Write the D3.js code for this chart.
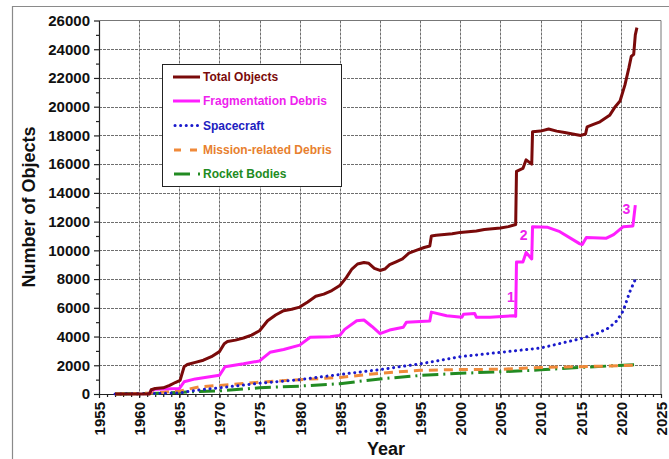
<!DOCTYPE html>
<html><head><meta charset="utf-8">
<script src="https://cdn.jsdelivr.net/npm/d3@7"></script>
<style>
html,body{margin:0;padding:0;background:#fff;}
svg{display:block;font-family:"Liberation Sans",Arial,sans-serif;}
</style></head>
<body><svg id="c" width="669" height="459"></svg>
<script>
// ---- data (year, number of objects) ----
const totalObjects = [[1957,0],[1961.3,0],[1961.5,300],[1962,380],[1963,430],[1963.8,600],[1964.5,800],[1965.1,950],[1965.6,1900],[1966,2050],[1967,2200],[1968,2350],[1969,2600],[1970,2950],[1970.6,3500],[1971,3650],[1972,3750],[1973,3900],[1974,4100],[1975,4400],[1976,5100],[1977,5500],[1978,5800],[1979,5900],[1980,6050],[1981,6400],[1982,6800],[1983,6950],[1984,7200],[1985,7550],[1985.8,8100],[1986.5,8700],[1987.2,9050],[1988,9150],[1988.6,9100],[1989.3,8750],[1990,8600],[1990.6,8700],[1991.2,9000],[1992,9200],[1992.8,9400],[1993.6,9800],[1994.5,10000],[1995.5,10200],[1996.2,10300],[1996.4,11000],[1997,11050],[1998,11100],[1999,11150],[2000,11250],[2001,11300],[2002,11350],[2003,11450],[2004,11500],[2005,11550],[2006,11650],[2006.9,11800],[2007.0,15500],[2007.8,15700],[2008.2,16300],[2008.9,16000],[2009.0,18250],[2010,18300],[2011,18450],[2012,18300],[2013,18200],[2014,18100],[2015,18000],[2015.6,18100],[2015.8,18600],[2016.5,18750],[2017.4,18950],[2018.6,19400],[2019.3,20000],[2019.9,20400],[2020.5,21500],[2021.0,22700],[2021.3,23500],[2021.6,23650],[2021.8,25000],[2022,25500]];
const fragmentationDebris = [[1961.3,0],[1961.5,250],[1962,330],[1965,380],[1965.6,850],[1967,1050],[1970,1300],[1970.7,1900],[1973,2100],[1975,2300],[1976.3,2900],[1978,3100],[1980,3400],[1981.3,3950],[1983.8,3980],[1985,4080],[1985.6,4500],[1987.1,5100],[1988,5150],[1989,4700],[1990,4200],[1991.2,4450],[1992.9,4650],[1993.3,5000],[1996.2,5080],[1996.4,5700],[1998.3,5450],[2000.2,5350],[2000.4,5550],[2001.8,5600],[2002,5350],[2003.7,5350],[2006.6,5450],[2006.9,5400],[2007.0,9190],[2007.8,9190],[2008.2,9850],[2008.9,9400],[2009.0,11650],[2010.9,11600],[2012.4,11300],[2014.9,10450],[2015.2,10400],[2015.7,10900],[2018.2,10850],[2019.1,11100],[2020.3,11650],[2021.5,11700],[2021.8,13150]];
const spacecraft = [[1957,0],[1960,20],[1963,50],[1965,80],[1967.5,290],[1970,430],[1975,750],[1980,1000],[1985,1360],[1990,1700],[1995,2100],[2000,2600],[2005,2900],[2010,3200],[2015,3850],[2017,4200],[2018.5,4600],[2019.5,5100],[2020.3,5800],[2021.1,7100],[2021.9,8100]];
const missionDebris = [[1957,0],[1961,50],[1965,200],[1967.5,500],[1970,600],[1975,820],[1980,1000],[1985,1150],[1990,1450],[1995,1650],[2000,1700],[2005,1720],[2010,1850],[2015,1900],[2022,2000]];
const rocketBodies = [[1957,0],[1960,20],[1963,60],[1967.5,180],[1970,220],[1975,430],[1980,550],[1985,720],[1990,1050],[1995,1290],[2000,1440],[2005,1550],[2010,1680],[2015,1850],[2022,2050]];

const seriesNames = ["Total Objects","Fragmentation Debris","Spacecraft","Mission-related Debris","Rocket Bodies"];
const xTicks = d3.range(1955, 2026, 5);
const yTicks = d3.range(0, 26001, 2000);
const annotations = [["1",2006.3,6400],["2",2007.9,10750],["3",2020.7,12550]];

// ---- styles ----
const styles = [
  {data: totalObjects, color:"#7a0a0a", text:"#7a0a0a", dash:null, w:3},
  {data: fragmentationDebris, color:"#ff1eff", text:"#ee22ee", dash:null, w:3},
  {data: spacecraft, color:"#1a1acc", text:"#2020c0", dash:"0.1 5.5", w:3, cap:"round"},
  {data: missionDebris, color:"#f08a3a", text:"#e8802e", dash:"9 6", w:3},
  {data: rocketBodies, color:"#228b22", text:"#228b22", dash:"16 5 2 5", w:3}
];

const svg = d3.select("#c");
const L=99, R=661, T=20.5, B=394;
const x = d3.scaleLinear().domain([1955,2025]).range([L,R]);
const y = d3.scaleLinear().domain([0,26000]).range([B,T]);

// outer frame
svg.append("path").attr("d","M12.5,470V6.5H680").attr("fill","none").attr("stroke","#8a8a8a").attr("stroke-width",1.2);

// grid
const grid = svg.append("g").attr("stroke","#6e6e6e").attr("stroke-width",1).attr("stroke-dasharray","3 1");
grid.selectAll(".gx").data(xTicks.slice(1,-1)).join("line")
  .attr("x1",d=>Math.round(x(d))+0.5).attr("x2",d=>Math.round(x(d))+0.5).attr("y1",T).attr("y2",B);
grid.selectAll(".gy").data(yTicks.slice(1,-1)).join("line")
  .attr("y1",d=>Math.round(y(d))+0.5).attr("y2",d=>Math.round(y(d))+0.5).attr("x1",L).attr("x2",R);
// plot border top/right
svg.append("path").attr("d",`M${L},${T}H${R}V${B}`).attr("fill","none").attr("stroke","#777").attr("stroke-width",1);

// axes
const yAxis = svg.append("g").attr("transform",`translate(${L},0)`)
  .call(d3.axisLeft(y).tickValues(yTicks).tickSize(5).tickSizeOuter(0).tickPadding(4).tickFormat(d3.format("d")));
const yMinor = svg.append("g").attr("transform",`translate(${L},0)`)
  .call(d3.axisLeft(y).tickValues(d3.range(1000,26000,2000)).tickSize(3).tickFormat(""));
yMinor.select(".domain").remove();
const xAxis = svg.append("g").attr("transform",`translate(0,${B})`)
  .call(d3.axisBottom(x).tickValues(xTicks).tickSize(4).tickSizeOuter(0).tickFormat(d3.format("d")));
const xMinor = svg.append("g").attr("transform",`translate(0,${B})`)
  .call(d3.axisBottom(x).tickValues(d3.range(1956,2025)).tickSize(3).tickFormat(""));
xMinor.select(".domain").remove();
[yAxis,yMinor,xAxis,xMinor].forEach(a=>{a.selectAll("line,path").attr("stroke","#222").attr("stroke-width",1.2);});
yAxis.selectAll("text").attr("font-size",15).attr("font-weight","bold").attr("fill","#111").attr("font-family","Liberation Sans, Arial");
xAxis.selectAll("text").attr("font-size",15).attr("font-weight","bold").attr("fill","#111").attr("font-family","Liberation Sans, Arial")
  .attr("text-anchor","end").attr("transform","rotate(-90)").attr("x",-8).attr("y",0).attr("dy","0.36em");

// axis titles
svg.append("text").attr("transform","translate(35,207) rotate(-90)").attr("text-anchor","middle")
  .attr("font-size",18).attr("font-weight","bold").attr("fill","#111").text("Number of Objects");
svg.append("text").attr("x",386).attr("y",455).attr("text-anchor","middle")
  .attr("font-size",18).attr("font-weight","bold").attr("fill","#111").text("Year");

// lines
const line = d3.line().x(d=>x(d[0])).y(d=>y(d[1]));
const order = [4,3,2,1,0];
order.forEach(i=>{
  const s = styles[i];
  svg.append("path").datum(s.data).attr("d",line).attr("fill","none")
    .attr("stroke",s.color).attr("stroke-width",s.w).attr("stroke-linejoin","round")
    .attr("stroke-linecap",s.cap||"butt").attr("stroke-dasharray",s.dash);
});

// annotations
svg.selectAll(".ann").data(annotations).join("text")
  .attr("x",d=>x(d[1])).attr("y",d=>y(d[2])).attr("text-anchor","middle")
  .attr("font-size",14).attr("font-weight","bold").attr("fill","#ee22ee").text(d=>d[0]);

// legend
const lg = svg.append("g");
lg.append("rect").attr("x",162.5).attr("y",64.5).attr("width",179).attr("height",122)
  .attr("fill","#fff").attr("stroke","#222").attr("stroke-width",1);
const rowY = [77,101,125.5,150,174];
const legendLine = d3.line().x(d=>d[0]).y(d=>d[1]);
styles.forEach((s,i)=>{
  const yy = rowY[i];
  let pts = [[173,yy],[200,yy]];
  let dash = s.dash;
  if(i===3){dash="7 9";pts=[[174,yy],[200,yy]];}
  if(i===4){dash="16 8 2 10";pts=[[174,yy],[201,yy]];}
  if(i===2){pts=[[175,yy],[200,yy]];}
  lg.append("path").attr("d",legendLine(pts)).attr("fill","none").attr("stroke",s.color)
    .attr("stroke-width",s.w).attr("stroke-dasharray",dash).attr("stroke-linecap",s.cap||"butt");
  lg.append("text").attr("x",203).attr("y",yy+4.3).attr("font-size",12).attr("font-weight","bold")
    .attr("fill",s.text).text(seriesNames[i]);
});
</script></body></html>
